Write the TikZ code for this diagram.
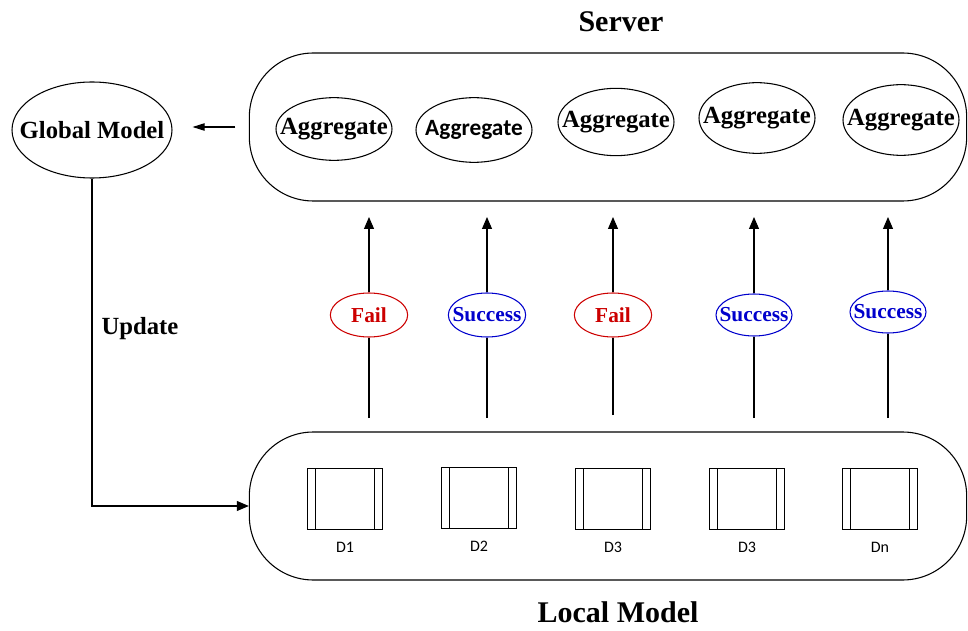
\documentclass[tikz,border=0pt]{standalone}
\usepackage{fontspec}
\setmainfont{Liberation Serif}
\newfontfamily\calfont{Carlito}
\usetikzlibrary{arrows.meta,shapes.geometric}
\definecolor{failred}{RGB}{204,0,0}
\definecolor{okblue}{RGB}{0,0,204}
\newcommand{\squeeze}[1]{\makebox[0pt]{#1}}

\begin{document}
\begin{tikzpicture}[x=0.75pt,y=-0.75pt,line width=0.8pt,
    tip/.style={-{Triangle[length=9pt,width=7.5pt]}},
    agg/.style={ellipse,draw,inner sep=0pt,minimum width=87pt,minimum height=#1,
      font=\bfseries\fontsize{18.5}{20}\selectfont},
    st/.style={ellipse,draw,inner sep=0pt,minimum width=58pt,minimum height=33pt,
      font=\bfseries\fontsize{16}{18}\selectfont},
    fail/.style={st,draw=failred,text=failred},
    ok/.style={st,draw=okblue,text=okblue},
    dbox/.style={draw,minimum width=56pt,minimum height=46pt,
      path picture={\draw
        ([xshift=6pt]path picture bounding box.north west) -- ([xshift=6pt]path picture bounding box.south west)
        ([xshift=-6pt]path picture bounding box.north east) -- ([xshift=-6pt]path picture bounding box.south east);},
      label={[font=\calfont\fontsize{12}{14}\selectfont,label distance=5pt]below:#1}},
    title/.style={font=\bfseries\fontsize{22.5}{26}\selectfont}]

  \useasboundingbox (0,0) rectangle (968,631);

  \begin{scope}[every node/.style={draw,rounded corners=48pt,minimum width=538pt,minimum height=111pt}]
    \node (srv) at (608,127) {};
    \node (loc) at (608,506) {};
  \end{scope}

  \node[title] (srvtitle) at (621,22) {Server};
  \node[title] (loctitle) at (618,612) {Local Model};

  \node[ellipse,draw,inner sep=0pt,minimum width=120pt,minimum height=72pt,
    font=\bfseries\fontsize{18.5}{20}\selectfont] (gm) at (92,130) {\squeeze{Global Model}};

  \node[agg=47pt] (a1) at (334,129) {\squeeze{Aggregate}};
  \node[agg=48.5pt,font=\calfont\bfseries\fontsize{17.5}{20}\selectfont] (a2) at (474,130) {\squeeze{Aggregate}};
  \node[agg=50.5pt] (a3) at (616,122) {\squeeze{Aggregate}};
  \node[agg=53pt] (a4) at (757,118) {\squeeze{Aggregate}};
  \node[agg=53pt] (a5) at (901,120) {\squeeze{Aggregate}};

  \node[fail] (s1) at (369,315) {\squeeze{Fail}};
  \node[ok]   (s2) at (487,315) {\squeeze{Success}};
  \node[fail] (s3) at (613,315) {\squeeze{Fail}};
  \node[ok,minimum width=57pt,minimum height=31.5pt] (s4) at (754,315) {\squeeze{Success}};
  \node[ok,minimum width=57pt,minimum height=31.5pt] (s5) at (888,312) {\squeeze{Success}};

  \node[dbox=D1] (d1) at (345,499) {};
  \node[dbox=D2] (d2) at (479,498) {};
  \node[dbox=D3] (d3) at (613,499) {};
  \node[dbox=D3] (d4) at (747,499) {};
  \node[dbox=Dn] (d5) at (880,499) {};

  \coordinate (b1) at (369,418);
  \coordinate (b2) at (487,418);
  \coordinate (b3) at (613,415);
  \coordinate (b4) at (754,418);
  \coordinate (b5) at (888,418);
  \coordinate (t1) at (369,217);
  \coordinate (t2) at (487,217);
  \coordinate (t3) at (613,217);
  \coordinate (t4) at (754,217);
  \coordinate (t5) at (888,217);

  \draw (b1) -- (s1);
  \draw (b2) -- (s2);
  \draw (b3) -- (s3);
  \draw (b4) -- (s4);
  \draw (b5) -- (s5);
  \draw[tip] (s1) -- (t1);
  \draw[tip] (s2) -- (t2);
  \draw[tip] (s3) -- (t3);
  \draw[tip] (s4) -- (t4);
  \draw[tip] (s5) -- (t5);

  \draw[-{Triangle[length=9pt,width=5.5pt]},shorten <=10pt,shorten >=15pt]
    (srv.west) -- (srv.west -| gm.east);
  \draw[tip] (gm.south) |- (loc.west);
  \node[font=\bfseries\fontsize{18.5}{20}\selectfont] (upd) at (140,329) {Update};

\end{tikzpicture}
\end{document}
